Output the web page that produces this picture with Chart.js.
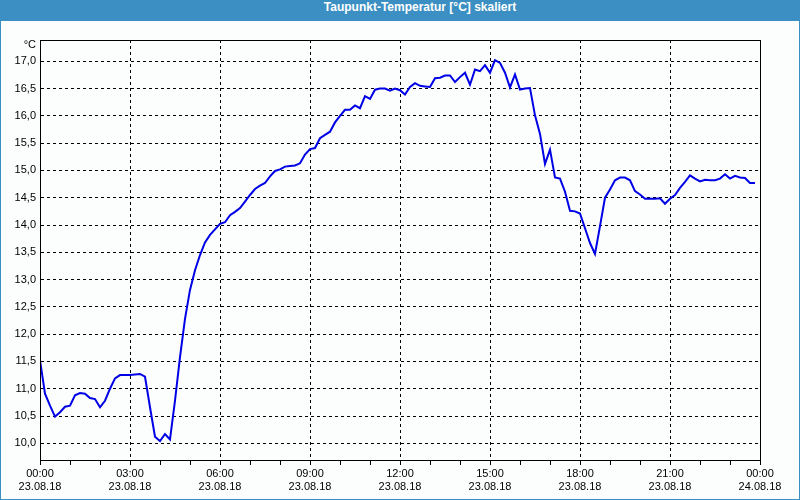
<!DOCTYPE html>
<html>
<head>
<meta charset="utf-8">
<script src="https://cdn.jsdelivr.net/npm/chart.js@4"></script>
<style>
  html, body { margin: 0; padding: 0; background: #fcfefd; }
  #wrap { position: relative; width: 800px; height: 500px; overflow: hidden; background: #fcfefd; }
  #bar { position: absolute; left: 0; top: 0; width: 800px; height: 21px; background: #3c8fc2; }
  #title { position: absolute; left: 40px; top: 0; width: 760px; height: 21px; line-height: 21px; text-align: center;
           color: #fff; font: bold 12px "Liberation Sans", Arial, sans-serif; }
  #frame { position: absolute; left: 0; top: 21px; width: 798px; height: 478px; border: 1px solid #3c8fc2; border-top: none; }
  canvas { position: absolute; left: 0; top: 0; }
</style>
</head>
<body>
<div id="wrap">
  <div id="bar"></div>
  <div id="title">Taupunkt-Temperatur [°C] skaliert</div>
  <div id="frame"></div>
  <canvas id="c" width="800" height="500"></canvas>
</div>
<script>
// Dew point readings every 10 minutes from 23.08.18 00:00 to 23:50
const sampleStepMinutes = 10;
const dewPoint = [
  11.52, 10.91, 10.69, 10.49, 10.57, 10.67,
  10.69, 10.88, 10.92, 10.91, 10.83, 10.81,
  10.66, 10.78, 11.00, 11.19, 11.25, 11.25,
  11.25, 11.26, 11.27, 11.22, 10.66, 10.12,
  10.04, 10.17, 10.07, 10.78, 11.58, 12.28,
  12.81, 13.17, 13.45, 13.68, 13.82, 13.92,
  14.02, 14.05, 14.18, 14.24, 14.31, 14.43,
  14.55, 14.66, 14.72, 14.77, 14.89, 14.99,
  15.02, 15.07, 15.08, 15.09, 15.13, 15.29,
  15.39, 15.41, 15.59, 15.65, 15.71, 15.88,
  16.00, 16.11, 16.11, 16.19, 16.14, 16.36,
  16.31, 16.48, 16.50, 16.50, 16.46, 16.50,
  16.47, 16.39, 16.53, 16.60, 16.55, 16.54,
  16.53, 16.69, 16.70, 16.74, 16.74, 16.62,
  16.71, 16.79, 16.57, 16.85, 16.82, 16.93,
  16.79, 17.02, 16.97, 16.79, 16.52, 16.76,
  16.48, 16.50, 16.51, 16.01, 15.67, 15.12,
  15.38, 14.87, 14.85, 14.61, 14.26, 14.25,
  14.21, 13.94, 13.67, 13.47, 13.98, 14.50,
  14.65, 14.82, 14.87, 14.87, 14.82, 14.62,
  14.56, 14.48, 14.48, 14.48, 14.49, 14.39,
  14.48, 14.55, 14.68, 14.79, 14.91, 14.85,
  14.80, 14.83, 14.82, 14.82, 14.85, 14.93,
  14.85, 14.90, 14.87, 14.86, 14.77, 14.77
];
const xTimeLabels = ['00:00','03:00','06:00','09:00','12:00','15:00','18:00','21:00','00:00'];
const xDateLabels = ['23.08.18','23.08.18','23.08.18','23.08.18','23.08.18','23.08.18','23.08.18','23.08.18','24.08.18'];
const yTickValues = [10.0, 10.5, 11.0, 11.5, 12.0, 12.5, 13.0, 13.5, 14.0, 14.5, 15.0, 15.5, 16.0, 16.5, 17.0];
const yTickLabels = ['10,0','10,5','11,0','11,5','12,0','12,5','13,0','13,5','14,0','14,5','15,0','15,5','16,0','16,5','17,0'];
const unitLabel = '°C';

const points = dewPoint.map((v, i) => ({ x: i * sampleStepMinutes / 60, y: v }));

Chart.defaults.font.family = '"Liberation Sans", Arial, sans-serif';
Chart.defaults.font.size = 11;
Chart.defaults.color = '#000';

const framePlugin = {
  id: 'frameBox',
  afterDraw(chart) {
    const { ctx, chartArea: a } = chart;
    ctx.save();
    ctx.strokeStyle = '#000';
    ctx.lineWidth = 1;
    ctx.setLineDash([]);
    ctx.strokeRect(Math.round(a.left) + 0.5, Math.round(a.top) + 0.5,
                   Math.round(a.right - a.left), Math.round(a.bottom - a.top));
    ctx.fillStyle = '#000';
    ctx.font = '11px "Liberation Sans", Arial, sans-serif';
    ctx.textAlign = 'right';
    ctx.textBaseline = 'middle';
    ctx.fillText(unitLabel, a.left - 4, a.top + 5);
    ctx.restore();
  }
};

new Chart(document.getElementById('c'), {
  type: 'line',
  data: {
    datasets: [{
      data: points,
      borderColor: '#0000e6',
      borderWidth: 2,
      pointRadius: 0,
      tension: 0,
      fill: false
    }]
  },
  options: {
    responsive: false,
    animation: false,
    layout: { padding: { top: 40, right: 40, left: 0, bottom: 0 } },
    plugins: { legend: { display: false }, tooltip: { enabled: false }, title: { display: false } },
    scales: {
      x: {
        type: 'linear',
        min: 0, max: 24,
        afterFit: s => { s.height = 40; },
        grid: {
          color: ctx => (ctx.tick && ctx.tick.value % 3 === 0) ? '#000' : 'rgba(0,0,0,0)',
          tickColor: '#000',
          tickLength: 5,
          lineWidth: 1,
          tickBorderDash: []
        },
        border: { display: true, color: '#000', dash: [3, 3] },
        ticks: {
          stepSize: 1,
          autoSkip: false,
          maxRotation: 0,
          padding: 2,
          callback: v => {
            if (v % 3 !== 0) return '';
            const i = v / 3;
            return [xTimeLabels[i], xDateLabels[i]];
          }
        }
      },
      y: {
        type: 'linear',
        min: 9.694, max: 17.39,
        afterFit: s => { s.width = 40; },
        afterBuildTicks: s => { s.ticks = yTickValues.map(v => ({ value: v })); },
        grid: { color: '#000', drawTicks: false, lineWidth: 1 },
        border: { display: true, color: '#000', dash: [3, 3] },
        ticks: {
          padding: 4,
          callback: (v) => {
            const i = yTickValues.indexOf(v);
            return i >= 0 ? yTickLabels[i] : '';
          }
        }
      }
    }
  },
  plugins: [framePlugin]
});
</script>
</body>
</html>
